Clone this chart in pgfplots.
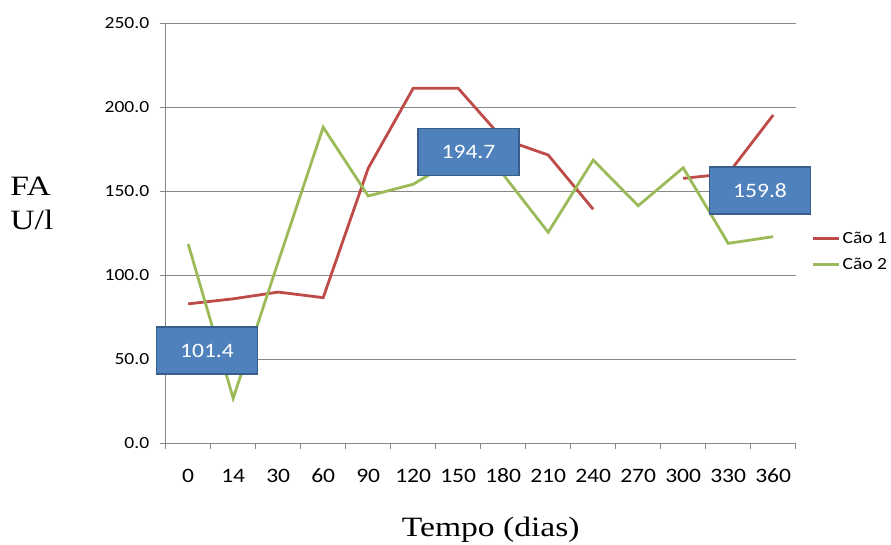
\documentclass[border=0pt]{standalone}
\usepackage{fontspec}
\usepackage{pgfplots}
\pgfplotsset{compat=1.18}
\setmainfont{Carlito}
\newfontfamily\calib[FakeStretch=1.15]{Carlito}
\newfontfamily\tnr[FakeStretch=1.2]{Liberation Serif}
\definecolor{caored}{HTML}{BE4B48}
\definecolor{caogreen}{HTML}{9BBB59}
\definecolor{boxblue}{HTML}{4F81BD}
\definecolor{boxedge}{HTML}{385D8A}
\definecolor{gridgray}{HTML}{878787}

\begin{document}
\begin{tikzpicture}
\useasboundingbox (0,0) rectangle (891pt,545pt);
\begin{axis}[
  at={(165.7pt,101.7pt)}, anchor=south west,
  scale only axis, width=630pt, height=420pt,
  xmin=-0.5, xmax=13.5, ymin=0, ymax=250,
  clip=false,
  axis x line*=bottom, axis y line*=left,
  axis line style={gridgray, line width=1pt},
  xtick={-0.5,0.5,1.5,2.5,3.5,4.5,5.5,6.5,7.5,8.5,9.5,10.5,11.5,12.5,13.5},
  xticklabels={},
  extra x ticks={0,1,2,3,4,5,6,7,8,9,10,11,12,13},
  extra x tick labels={0,14,30,60,90,120,150,180,210,240,270,300,330,360},
  extra x tick style={major tick length=0pt, xticklabel style={yshift=-22pt}},
  ytick={0,50,100,150,200,250},
  tick align=outside,
  major tick length=6pt,
  tick style={gridgray, line width=1pt},
  ymajorgrids, grid style={gridgray, line width=1pt},
  /pgf/number format/assume math mode=true,
  yticklabel style={font=\calib\fontsize{17}{20}\selectfont, text=black,
    xshift=-7pt,
    /pgf/number format/.cd, fixed, fixed zerofill, precision=1},
  xticklabel style={font=\calib\fontsize{20.5}{24}\selectfont, text=black},
  xlabel={Tempo (dias)},
  xlabel style={font=\tnr\fontsize{28}{34}\selectfont,
    at={(axis description cs:0.516,-0.206)}, anchor=center},
  ylabel={FA\\U/l},
  ylabel style={font=\tnr\fontsize{28}{34}\selectfont, align=left,
    rotate=-90, at={(axis description cs:-0.252,0.572)}, anchor=west},
  unbounded coords=jump,
  legend style={draw=none, fill=none, at={(axis description cs:1,0.457)},
    anchor=west, xshift=16pt, inner sep=0pt, row sep=9pt,
    font=\calib\fontsize{17}{20}\selectfont},
  legend cell align=left,
  legend image code/.code={\draw[#1] (0pt,0pt) -- (26pt,0pt);},
]
% Cão 1 (no reading at day 270)
\addplot[caored, line width=2.8pt] coordinates {
  (0,83.0) (1,86.0) (2,90.0) (3,86.7) (4,163.7) (5,211.3) (6,211.3)
  (7,181.0) (8,171.6) (9,139.3) (10,nan) (11,157.7) (12,160.5) (13,195.4)};
\addlegendentry{Cão 1}
% Cão 2
\addplot[caogreen, line width=2.8pt] coordinates {
  (0,118.6) (1,26.8) (2,108.0) (3,188.1) (4,147.2) (5,154.2) (6,170.0)
  (7,160.0) (8,125.6) (9,168.6) (10,141.4) (11,164.0) (12,119.0) (13,123.0)};
\addlegendentry{Cão 2}
% period averages
\tikzset{avgbox/.style={fill=boxblue, draw=boxedge, line width=1.6pt,
  minimum width=101pt, minimum height=47pt, inner sep=0pt, text=white,
  font=\calib\fontsize{20.5}{24}\selectfont}}
\node[avgbox] at (axis cs:0.418,55.2) {101.4};
\node[avgbox] at (axis cs:6.229,173.4) {194.7};
\node[avgbox] at (axis cs:12.707,150.5) {159.8};
\end{axis}
\end{tikzpicture}
\end{document}
